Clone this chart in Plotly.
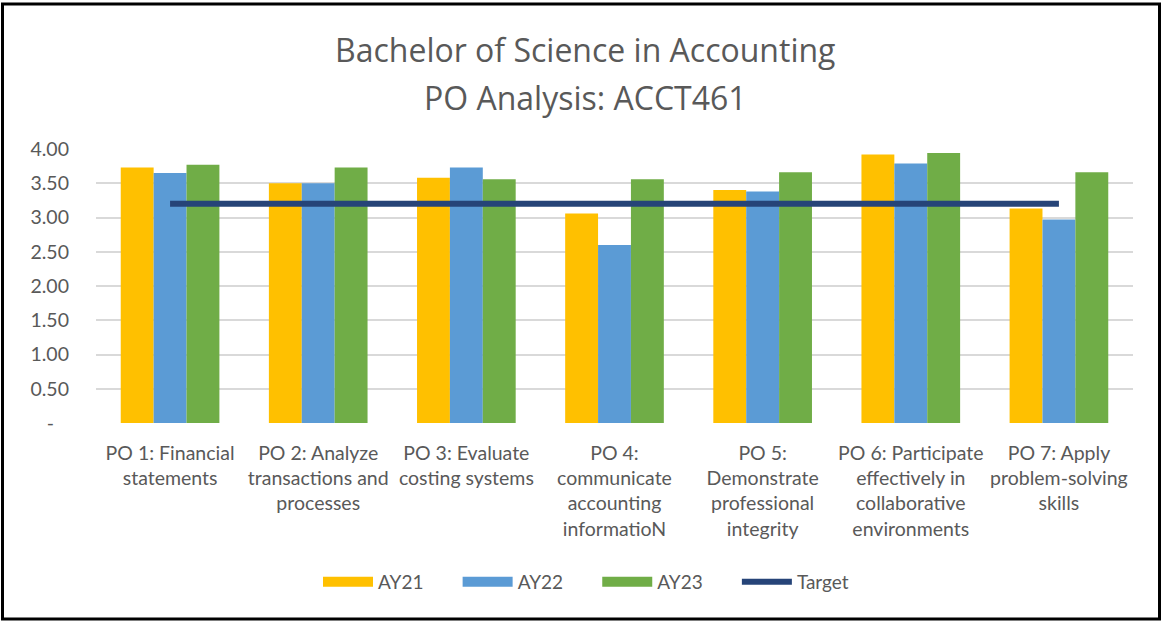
import plotly.graph_objects as go

categories = [
    "PO 1: Financial<br>statements",
    "PO 2: Analyze<br>transactions and<br>processes",
    "PO 3: Evaluate<br>costing systems",
    "PO 4:<br>communicate<br>accounting<br>informatioN",
    "PO 5:<br>Demonstrate<br>professional<br>integrity",
    "PO 6: Participate<br>effectively in<br>collaborative<br>environments",
    "PO 7: Apply<br>problem-solving<br>skills",
]
ay21 = [3.73, 3.50, 3.58, 3.06, 3.40, 3.92, 3.13]
ay22 = [3.65, 3.50, 3.73, 2.60, 3.38, 3.79, 2.97]
ay23 = [3.77, 3.73, 3.56, 3.56, 3.66, 3.94, 3.66]
target = [3.2, 3.2, 3.2, 3.2, 3.2, 3.2, 3.2]

y_tickvals = [0, 0.5, 1.0, 1.5, 2.0, 2.5, 3.0, 3.5, 4.0]
y_ticktext = ["-\u00a0\u00a0\u00a0", "0.50", "1.00", "1.50", "2.00", "2.50", "3.00", "3.50", "4.00"]

title_lines = ["Bachelor of Science in Accounting", "PO Analysis: ACCT461"]

C21, C22, C23, CT = "#FFC000", "#5B9BD5", "#70AD47", "#264478"
TXT = "#595959"
FONT = "Lato"
PAD = "\u00a0" * 6

W, H = 1162, 621
ML, MR, MT, MB = 96, 29, 149, 198
PW, PH = W - ML - MR, H - MT - MB


def px_x(x):
    return (x - ML) / PW


def px_y(y):
    return (H - MB - y) / PH


fig = go.Figure()
for name, vals, col in [("AY21", ay21, C21), ("AY22", ay22, C22), ("AY23", ay23, C23)]:
    fig.add_trace(go.Bar(x=categories, y=vals, name=name, marker=dict(color=col, line=dict(width=0)),
                         showlegend=False, legendgroup=name))
    # legend proxy (wide swatch like Excel)
    fig.add_trace(go.Scatter(x=[None], y=[None], mode="lines", name=name + PAD, legendgroup=name,
                             line=dict(color=col, width=13)))

fig.add_trace(go.Scatter(x=categories, y=target, name="Target", mode="lines",
                         line=dict(color=CT, width=6)))

fig.update_layout(
    width=W, height=H,
    margin=dict(l=ML, r=MR, t=MT, b=MB, autoexpand=False),
    paper_bgcolor="white", plot_bgcolor="white",
    barmode="group", bargap=0.334, bargroupgap=0,
    font=dict(family=FONT, size=19.5, color=TXT),
    showlegend=True,
    legend=dict(orientation="h", x=px_x(586), xanchor="center", y=px_y(582), yanchor="middle",
                font=dict(size=19, color=TXT), itemwidth=50, traceorder="normal",
                bgcolor="rgba(0,0,0,0)"),
    xaxis=dict(showgrid=False, showline=False, zeroline=False, ticks="",
               tickfont=dict(size=19.5, color=TXT), ticklabelstandoff=16),
    yaxis=dict(range=[0, 4], tickvals=y_tickvals, ticktext=y_ticktext, showgrid=True,
               gridcolor="#D9D9D9", gridwidth=2, zeroline=False, showline=False, ticks="",
               tickfont=dict(size=19.5, color=TXT), ticklabelstandoff=26),
)

fig.add_annotation(text=title_lines[0], xref="paper", yref="paper", x=px_x(585), y=px_y(49),
                   xanchor="center", yanchor="middle", showarrow=False,
                   font=dict(size=32, color=TXT, family="Open Sans"))
fig.add_annotation(text=title_lines[1], xref="paper", yref="paper", x=px_x(585), y=px_y(97),
                   xanchor="center", yanchor="middle", showarrow=False,
                   font=dict(size=32, color=TXT, family="Open Sans"))

fig.add_shape(type="rect", xref="paper", yref="paper",
              x0=px_x(2.5), x1=px_x(1159.5), y0=px_y(619), y1=px_y(4),
              line=dict(color="black", width=3), fillcolor="rgba(0,0,0,0)", layer="above")

fig.write_html("out.html", config={"displayModeBar": False},
               post_script="document.body.style.margin='0';")
